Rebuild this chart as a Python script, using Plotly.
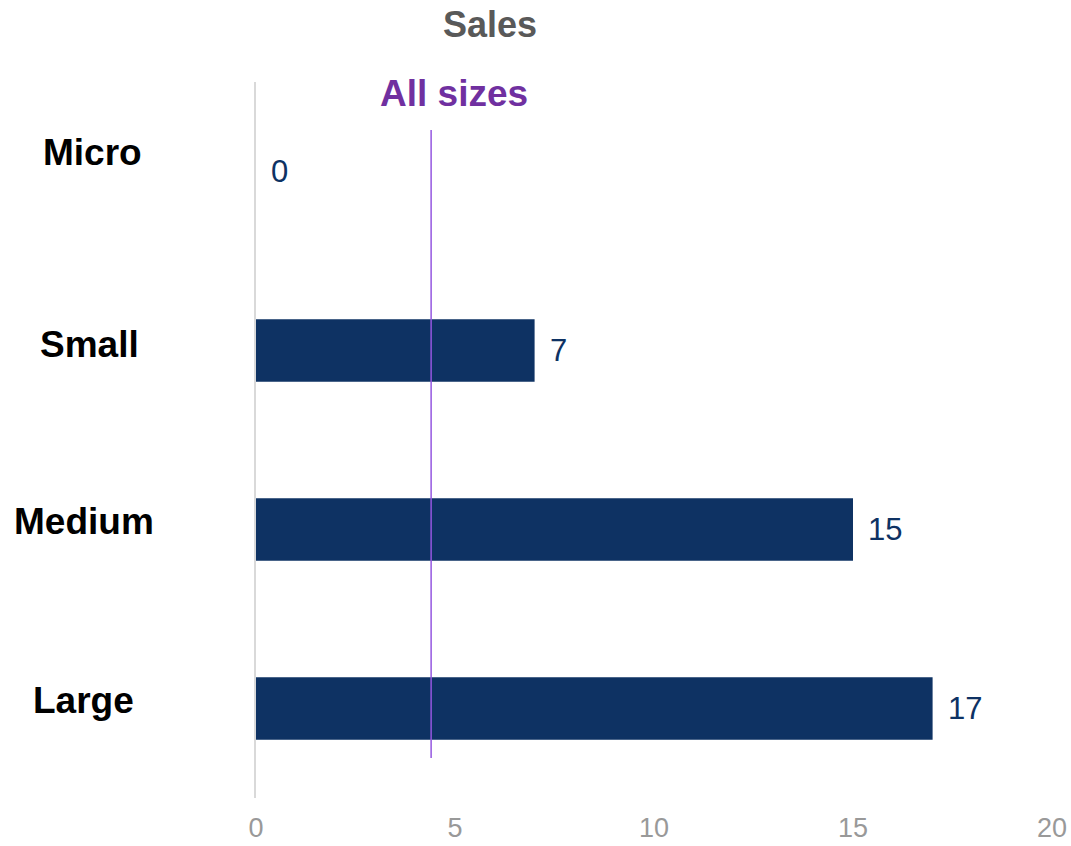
import plotly.graph_objects as go

# Sales by company size
categories = ["Micro", "Small", "Medium", "Large"]
sales = [0, 7, 15, 17]
all_sizes = 4.4
x_ticks = [0, 5, 10, 15, 20]

NAVY = "#0E3263"
PURPLE_LINE = "#9457E0"
PURPLE_TEXT = "#7030A0"
FONT = "Liberation Sans, Arial, sans-serif"

W, H = 1071, 846
ML, MR, MT, MB = 256, 19, 82, 48
plot_w = W - ML - MR

# pixel placement of the left-hand category labels (centre x, upward shift)
label_pos = {
    "Micro": (92, 19),
    "Small": (89, 6),
    "Medium": (84, 8),
    "Large": (83, 8),
}

fig = go.Figure()
fig.add_trace(go.Bar(
    x=sales,
    y=categories,
    orientation="h",
    width=0.35,
    marker=dict(color=NAVY, line=dict(width=0)),
    hoverinfo="x+y",
))

# value labels to the right of each bar
for cat, val in zip(categories, sales):
    fig.add_annotation(
        x=val, y=cat, xref="x", yref="y",
        text=str(val), showarrow=False,
        xanchor="left", yanchor="middle", xshift=13, yshift=0,
        font=dict(family=FONT, size=31, color=NAVY),
    )

# category labels on the left
for cat in categories:
    px, shift = label_pos[cat]
    fig.add_annotation(
        x=(px - ML) / plot_w, y=cat, xref="paper", yref="y",
        text=f"<b>{cat}</b>", showarrow=False,
        xanchor="center", yanchor="middle", yshift=shift,
        font=dict(family=FONT, size=37, color="#000000"),
    )

# reference line for all sizes
fig.add_shape(
    type="line", xref="x", yref="paper",
    x0=all_sizes, x1=all_sizes, y0=0.056, y1=0.933,
    line=dict(color=PURPLE_LINE, width=1.5),
)
fig.add_annotation(
    x=all_sizes, y=1.0, xref="x", yref="paper",
    text="<b>All sizes</b>", showarrow=False,
    xanchor="center", yanchor="middle", xshift=23, yshift=-11,
    font=dict(family=FONT, size=37, color=PURPLE_TEXT),
)

fig.update_layout(
    width=W, height=H,
    margin=dict(l=ML, r=MR, t=MT, b=MB, autoexpand=False),
    paper_bgcolor="white", plot_bgcolor="white",
    showlegend=False,
    title=dict(
        text="<b>Sales</b>", x=490 / W, xanchor="center",
        y=1 - 24 / H, yanchor="middle",
        font=dict(family=FONT, size=36, color="#595959"),
    ),
    xaxis=dict(
        range=[0, 20], tickvals=x_ticks,
        showgrid=False, zeroline=False, showline=False,
        ticks="", ticklabelstandoff=11, automargin=False,
        tickfont=dict(family=FONT, size=27, color="#999999"),
    ),
    yaxis=dict(
        categoryorder="array", categoryarray=categories,
        autorange="reversed", range=[3.5, -0.5],
        showticklabels=False, showgrid=False, zeroline=False,
        showline=True, linecolor="#D9D9D9", linewidth=2,
        ticks="", automargin=False,
    ),
)

fig.write_html("out.html")
